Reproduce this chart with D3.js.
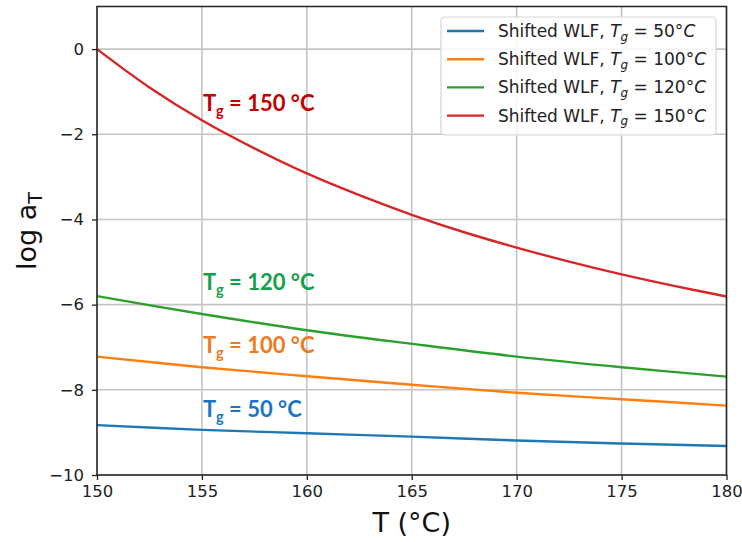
<!DOCTYPE html>
<html>
<head>
<meta charset="utf-8">
<script src="https://cdn.jsdelivr.net/npm/d3@7"></script>
<style>
  body { margin: 0; background: #fff; }
</style>
</head>
<body>
<div id="chart"></div>
<script>
// Data
const temps = [150, 155, 160, 165, 170, 175, 180];
const tempsFine = [150, 152.5, 155, 157.5, 160, 162.5, 165, 167.5, 170, 172.5, 175, 177.5, 180];
const tg50 = [-8.83, -8.94, -9.02, -9.10, -9.19, -9.26, -9.32];
const tg100 = [-7.22, -7.47, -7.68, -7.88, -8.07, -8.22, -8.37];
const tg120 = [-5.80, -6.22, -6.60, -6.92, -7.22, -7.47, -7.69];
const tg150 = [0, -0.90, -1.67, -2.33, -2.92, -3.43, -3.89, -4.30, -4.66, -4.99, -5.29, -5.56, -5.81];
const tgNames = ["50", "100", "120", "150"];
const lineColors = ["#1f77b4", "#ff7f0e", "#2ca02c", "#d62728"];
const noteColors = ["#1b75c7", "#ee7a1e", "#13a04a", "#c00000"];
const notePos = [[155, -8.64], [155, -7.13], [155, -5.65], [155, -1.45]]; // label anchor (T, log aT)
const xTicks = [150, 155, 160, 165, 170, 175, 180];
const yTicks = [0, -2, -4, -6, -8, -10];

const series = [
  {tg: "50", xs: temps, ys: tg50},
  {tg: "100", xs: temps, ys: tg100},
  {tg: "120", xs: temps, ys: tg120},
  {tg: "150", xs: tempsFine, ys: tg150}
];

const W = 742, H = 542;
const margin = {top: 6.5, right: 15.5, bottom: 67, left: 97};
const width = W - margin.left - margin.right,
      height = H - margin.top - margin.bottom;

const svg = d3.select("#chart").append("svg")
    .attr("width", W).attr("height", H)
    .attr("font-family", "DejaVu Sans, sans-serif");
const g = svg.append("g")
    .attr("transform", "translate(" + margin.left + "," + margin.top + ")");

const x = d3.scaleLinear().domain([150, 180]).range([0, width]);
const y = d3.scaleLinear().domain([-10, 1]).range([height, 0]);

// grid
g.append("g").selectAll("line").data(xTicks).join("line")
    .attr("x1", d => x(d)).attr("x2", d => x(d))
    .attr("y1", 0).attr("y2", height)
    .attr("stroke", "#c4c4c4").attr("stroke-width", 1.6);
g.append("g").selectAll("line").data(yTicks).join("line")
    .attr("x1", 0).attr("x2", width)
    .attr("y1", d => y(d)).attr("y2", d => y(d))
    .attr("stroke", "#c4c4c4").attr("stroke-width", 1.6);

// axes
const fmt = d => d < 0 ? "\u2212" + Math.abs(d) : String(d);
const xAxis = g.append("g").attr("transform", "translate(0," + height + ")")
    .call(d3.axisBottom(x).tickValues(xTicks).tickSize(5).tickPadding(5).tickFormat(fmt));
const yAxis = g.append("g")
    .call(d3.axisLeft(y).tickValues(yTicks).tickSize(5).tickPadding(8).tickFormat(fmt));
[xAxis, yAxis].forEach(a => {
  a.select(".domain").remove();
  a.selectAll("line").attr("stroke", "#222").attr("stroke-width", 1.3);
  a.selectAll("text").attr("font-size", 16.5).attr("fill", "#222")
    .attr("font-family", "DejaVu Sans");
});
xAxis.selectAll("text").attr("dy", "0.75em");

// curves
const line = d3.line()
    .x(d => x(d[0])).y(d => y(d[1]))
    .curve(d3.curveCatmullRom);
g.append("g").attr("class", "curves")
  .selectAll("path").data(series).join("path")
    .attr("d", s => line(s.xs.map((t, i) => [t, s.ys[i]])))
    .attr("fill", "none")
    .attr("stroke", (s, i) => lineColors[i])
    .attr("stroke-width", 2.4);

// frame
g.append("rect").attr("width", width).attr("height", height)
    .attr("fill", "none").attr("stroke", "#222").attr("stroke-width", 1.5);

// annotations
const notes = g.append("g").selectAll("text").data(tgNames).join("text")
    .attr("x", (d, i) => x(notePos[i][0]) + 1)
    .attr("y", (d, i) => y(notePos[i][1]))
    .attr("fill", (d, i) => noteColors[i])
    .attr("font-family", "Lato, sans-serif")
    .attr("font-weight", "bold")
    .attr("font-size", 22);
notes.append("tspan").text("T");
notes.append("tspan").attr("font-size", 14.5).attr("dy", 5).text("g");
notes.append("tspan").attr("dy", -5).text(d => " = " + d + " \u00b0C");

// legend
const leg = g.append("g").attr("transform", "translate(" + (441 - margin.left) + "," + (17 - margin.top) + ")");
leg.append("rect").attr("width", 275).attr("height", 118).attr("rx", 4)
    .attr("fill", "#fff").attr("fill-opacity", 0.85)
    .attr("stroke", "#d6d6d6").attr("stroke-width", 1.2);
const rows = leg.selectAll("g.row").data(tgNames).join("g").attr("class", "row")
    .attr("transform", (d, i) => "translate(0," + (14 + i * 28.2) + ")");
rows.append("line").attr("x1", 6).attr("x2", 43)
    .attr("stroke", (d, i) => lineColors[i]).attr("stroke-width", 2.4);
const lt = rows.append("text").attr("x", 57).attr("y", 6)
    .attr("font-size", 17).attr("fill", "#222");
lt.append("tspan").text("Shifted WLF, ");
lt.append("tspan").attr("font-style", "italic").text("T");
lt.append("tspan").attr("font-style", "italic")
    .attr("font-size", 12).attr("dy", 3.5).text("g");
lt.append("tspan").attr("dy", -3.5).text(d => " = " + d + "\u00b0");
lt.append("tspan").attr("font-style", "italic").text("C");

// axis titles
svg.append("text")
    .attr("x", margin.left + width / 2).attr("y", 532)
    .attr("text-anchor", "middle").attr("font-size", 27).attr("fill", "#111")
    .text("T (\u00b0C)");
const yl = svg.append("text")
    .attr("transform", "translate(36,231) rotate(-90)")
    .attr("text-anchor", "middle").attr("font-size", 27).attr("fill", "#111");
yl.append("tspan").text("log a");
yl.append("tspan").attr("font-size", 19).attr("dy", 6).text("T");
</script>
</body>
</html>
